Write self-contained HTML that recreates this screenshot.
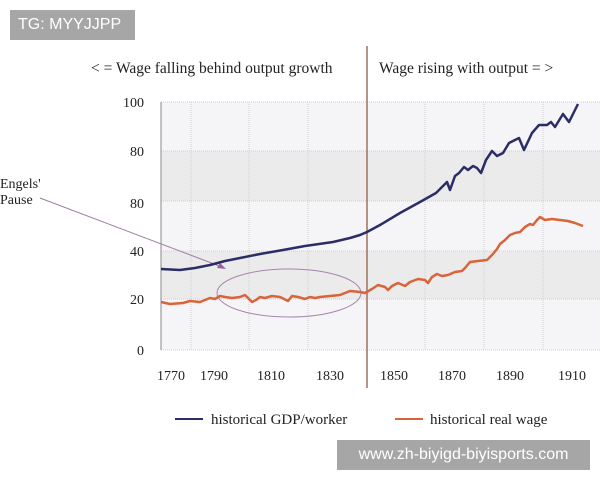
<!DOCTYPE html>
<html><head><meta charset="utf-8"><style>
body{margin:0;width:600px;height:480px;background:#fff;overflow:hidden;position:relative;font-family:"Liberation Serif",serif}
svg{position:absolute;left:0;top:0}
.wm{position:absolute;background:#a6a6a6;color:#fff;font-family:"Liberation Sans",sans-serif;}
</style></head><body>
<svg width="600" height="480" viewBox="0 0 600 480">
<rect x="161" y="102" width="439" height="248" fill="#f5f5f7"/>
<rect x="161" y="151" width="439" height="50" fill="#ebebec"/>
<rect x="161" y="251" width="439" height="48" fill="#ebebec"/>
<g stroke="#d0d0d2" stroke-width="1" stroke-dasharray="1,1">
<line x1="161" y1="102" x2="600" y2="102"/><line x1="161" y1="151" x2="600" y2="151"/><line x1="161" y1="201" x2="600" y2="201"/><line x1="161" y1="251" x2="600" y2="251"/><line x1="161" y1="299" x2="600" y2="299"/><line x1="161" y1="350" x2="600" y2="350"/>
<line x1="191" y1="102" x2="191" y2="350"/><line x1="249" y1="102" x2="249" y2="350"/><line x1="308" y1="102" x2="308" y2="350"/><line x1="425" y1="102" x2="425" y2="350"/><line x1="484" y1="102" x2="484" y2="350"/><line x1="543" y1="102" x2="543" y2="350"/>
</g>
<line x1="161" y1="102" x2="161" y2="350" stroke="#888" stroke-width="1"/>
<line x1="367" y1="46" x2="367" y2="388" stroke="#a07060" stroke-width="1.5"/>
<g font-size="14" fill="#222" text-anchor="end">
<text x="144" y="107">100</text><text x="144" y="156">80</text><text x="144" y="208">80</text><text x="144" y="256">40</text><text x="144" y="304">20</text><text x="144" y="355">0</text>
</g>
<g font-size="14" fill="#222" text-anchor="middle">
<text x="171" y="380">1770</text><text x="214" y="380">1790</text><text x="271" y="380">1810</text><text x="330" y="380">1830</text><text x="394" y="380">1850</text><text x="452" y="380">1870</text><text x="510" y="380">1890</text><text x="572" y="380">1910</text>
</g>
<text x="91" y="73" font-size="15.5" fill="#222">&lt; = Wage falling behind output growth</text>
<text x="379" y="73" font-size="15.5" fill="#222">Wage rising with output = &gt;</text>
<text x="0" y="188" font-size="14" fill="#222">Engels'</text>
<text x="0" y="204" font-size="14" fill="#222">Pause</text>
<line x1="40" y1="198" x2="222" y2="267" stroke="#9a7fa0" stroke-width="1"/>
<polygon points="226,269 217,268 220,263" fill="#9a5fa0"/>
<ellipse cx="289" cy="293" rx="72" ry="24" fill="none" stroke="#a585b0" stroke-width="1"/>
<polyline fill="none" stroke="#2b2d66" stroke-width="2.5" stroke-linejoin="round" points="161,269 180,270 195,268 210,265 225,261 240,258 260,254 283,250 305,246 333,242 350,238 360,235 367,232 380,225 400,213 420,202 436,193 447,182 450,190 455,176 459,173 464,167 468,170 473,166 477,168 481,173 486,160 492,151 497,156 503,153 509,143 519,138 524,150 532,133 539,125 547,125 551,122 555,127 563,114 569,122 578,104"/>
<polyline fill="none" stroke="#d9643a" stroke-width="2.5" stroke-linejoin="round" points="161,302 170,304 183,303 190,301 200,302 210,298 215,299 220,296 225,297 232,298 240,297 245,295 252,302 256,300 260,297 265,298 272,296 280,297 288,301 292,296 298,297 305,299 310,297 315,298 320,297 330,296 340,295 345,293 350,291 360,292 365,293 372,289 378,285 385,287 388,290 392,286 398,283 405,286 410,282 418,279 425,280 428,283 432,277 437,274 442,276 448,275 455,272 462,271 465,268 470,262 478,261 487,260 492,255 497,249 500,244 505,240 510,235 515,233 520,232 525,227 530,224 533,225 537,220 540,217 545,220 552,219 560,220 568,221 575,223 583,226"/>
<line x1="175" y1="419" x2="203" y2="419" stroke="#2b2d66" stroke-width="2"/>
<text x="211" y="424" font-size="15" fill="#222">historical GDP/worker</text>
<line x1="395" y1="419" x2="423" y2="419" stroke="#d9643a" stroke-width="2"/>
<text x="430" y="424" font-size="15" fill="#222">historical real wage</text>
</svg>
<div class="wm" style="left:10px;top:10px;width:125px;height:30px;line-height:30px;font-size:16px;padding-left:8px;box-sizing:border-box">TG: MYYJJPP</div>
<div class="wm" style="left:337px;top:440px;width:253px;height:30px;line-height:30px;font-size:16px;text-align:center">www.zh-biyigd-biyisports.com</div>
</body></html>
